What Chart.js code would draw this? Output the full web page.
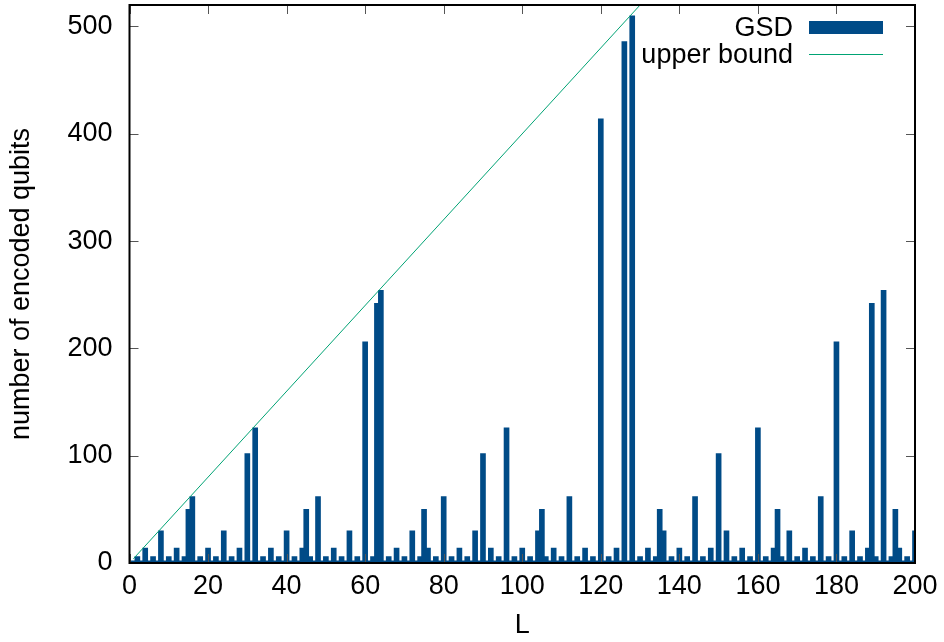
<!DOCTYPE html>
<html><head><meta charset="utf-8">
<script src="https://cdn.jsdelivr.net/npm/chart.js@4.4.1/dist/chart.umd.min.js"></script>
<style>html,body{margin:0;padding:0;background:#fff;}canvas{display:block;}</style>
</head><body>
<canvas id="c" width="944" height="642" style="width:944px;height:642px"></canvas>
<script>
// Lattice sizes L
const L = [
  1,2,3,4,5,6,7,8,9,10,11,12,13,14,15,16,17,18,19,20,
  21,22,23,24,25,26,27,28,29,30,31,32,33,34,35,36,37,38,39,40,
  41,42,43,44,45,46,47,48,49,50,51,52,53,54,55,56,57,58,59,60,
  61,62,63,64,65,66,67,68,69,70,71,72,73,74,75,76,77,78,79,80,
  81,82,83,84,85,86,87,88,89,90,91,92,93,94,95,96,97,98,99,100,
  101,102,103,104,105,106,107,108,109,110,111,112,113,114,115,116,117,118,119,120,
  121,122,123,124,125,126,127,128,129,130,131,132,133,134,135,136,137,138,139,140,
  141,142,143,144,145,146,147,148,149,150,151,152,153,154,155,156,157,158,159,160,
  161,162,163,164,165,166,167,168,169,170,171,172,173,174,175,176,177,178,179,180,
  181,182,183,184,185,186,187,188,189,190,191,192,193,194,195,196,197,198,199,200
];
// number of encoded qubits (GSD)
const gsd = [
  2,6,2,14,2,6,2,30,2,6,2,14,2,6,50,62,2,6,2,14,
  2,6,2,30,2,6,2,14,2,102,2,126,2,6,2,14,2,6,2,30,
  2,6,2,14,50,6,2,62,2,6,2,14,2,6,2,30,2,6,2,206,
  2,6,242,254,2,6,2,14,2,6,2,30,2,6,50,14,2,6,2,62,
  2,6,2,14,2,6,2,30,2,102,2,14,2,6,2,126,2,6,2,14,
  2,6,2,30,50,6,2,14,2,6,2,62,2,6,2,14,2,6,2,414,
  2,6,2,14,2,486,2,510,2,6,2,14,2,6,50,30,2,6,2,14,
  2,6,2,62,2,6,2,14,2,102,2,30,2,6,2,14,2,6,2,126,
  2,6,2,14,50,6,2,30,2,6,2,14,2,6,2,62,2,6,2,206,
  2,6,2,30,2,6,2,14,242,6,2,254,2,6,50,14,2,6,2,30
];
// upper bound line endpoints
const boundL = [1, 130];
const boundK = [4, 520];
// tick labels
const xTicks = [0,20,40,60,80,100,120,140,160,180,200];
const yTicks = [0,100,200,300,400,500];

const FONT = '"Liberation Sans", Arial, Helvetica, sans-serif';
const FS = 27;
const BAR = '#004b87';
const GREEN = '#00a374';

const framePlugin = {
  id: 'frame',
  afterDatasetsDraw(chart) {
    const {ctx, chartArea: a, scales: {x, y}} = chart;
    ctx.save();
    ctx.strokeStyle = '#555';
    ctx.lineWidth = 1;
    const tl = 9;
    xTicks.forEach(v => {
      const px = Math.round(x.getPixelForValue(v)) + 0.5;
      ctx.beginPath();
      ctx.moveTo(px, a.bottom); ctx.lineTo(px, a.bottom - tl);
      ctx.moveTo(px, a.top); ctx.lineTo(px, a.top + tl);
      ctx.stroke();
    });
    yTicks.forEach(v => {
      const py = Math.round(y.getPixelForValue(v)) + 0.5;
      ctx.beginPath();
      ctx.moveTo(a.left, py); ctx.lineTo(a.left + tl, py);
      ctx.moveTo(a.right, py); ctx.lineTo(a.right - tl, py);
      ctx.stroke();
    });
    ctx.strokeStyle = '#000';
    ctx.lineWidth = 2;
    ctx.strokeRect(a.left, a.top, a.right - a.left, a.bottom - a.top);
    // legend
    ctx.fillStyle = '#000';
    ctx.font = FS + 'px ' + FONT;
    ctx.textAlign = 'right';
    ctx.textBaseline = 'middle';
    ctx.fillText('GSD', 793, 29);
    ctx.fillText('upper bound', 793, 56);
    ctx.fillStyle = BAR;
    ctx.fillRect(809, 21, 74, 13);
    ctx.strokeStyle = GREEN;
    ctx.lineWidth = 1;
    ctx.beginPath();
    ctx.moveTo(809, 54.5); ctx.lineTo(883, 54.5);
    ctx.stroke();
    ctx.restore();
  }
};

function noPad(s) {
  s.paddingTop = 0; s.paddingBottom = 0; s.paddingLeft = 0; s.paddingRight = 0;
}

new Chart(document.getElementById('c'), {
  type: 'bar',
  data: {
    datasets: [
      {
        type: 'bar',
        label: 'GSD',
        data: L.map((l, i) => ({x: l, y: gsd[i]})),
        backgroundColor: BAR,
        borderWidth: 0,
        barThickness: 5,
        order: 2
      },
      {
        type: 'line',
        label: 'upper bound',
        data: boundL.map((l, i) => ({x: l, y: boundK[i]})),
        borderColor: GREEN,
        borderWidth: 1,
        pointRadius: 0,
        fill: false,
        tension: 0,
        order: 1
      }
    ]
  },
  options: {
    responsive: false,
    animation: false,
    devicePixelRatio: 1,
    layout: {padding: {top: 5, right: 29, left: 0, bottom: 0}},
    plugins: {legend: {display: false}, tooltip: {enabled: false}},
    scales: {
      x: {
        type: 'linear',
        min: 0, max: 200,
        offset: false,
        grid: {display: false, drawTicks: false},
        border: {display: false},
        afterBuildTicks: s => { s.ticks = xTicks.map(v => ({value: v})); },
        afterFit: s => { s.height = 79; noPad(s); },
        ticks: {color: '#000', font: {family: FONT, size: FS}, padding: 7, maxRotation: 0, autoSkip: false},
        title: {display: true, text: 'L', color: '#000', font: {family: FONT, size: FS}, padding: {top: 0, bottom: 0}}
      },
      y: {
        type: 'linear',
        min: 0, max: 520,
        grid: {display: false, drawTicks: false},
        border: {display: false},
        afterBuildTicks: s => { s.ticks = yTicks.map(v => ({value: v})); },
        afterFit: s => { s.width = 129.5; noPad(s); },
        ticks: {color: '#000', font: {family: FONT, size: FS}, padding: 17},
        title: {display: true, text: 'number of encoded qubits', color: '#000', font: {family: FONT, size: FS}, padding: {top: 5, bottom: 0}}
      }
    }
  },
  plugins: [framePlugin]
});
</script>
</body></html>
